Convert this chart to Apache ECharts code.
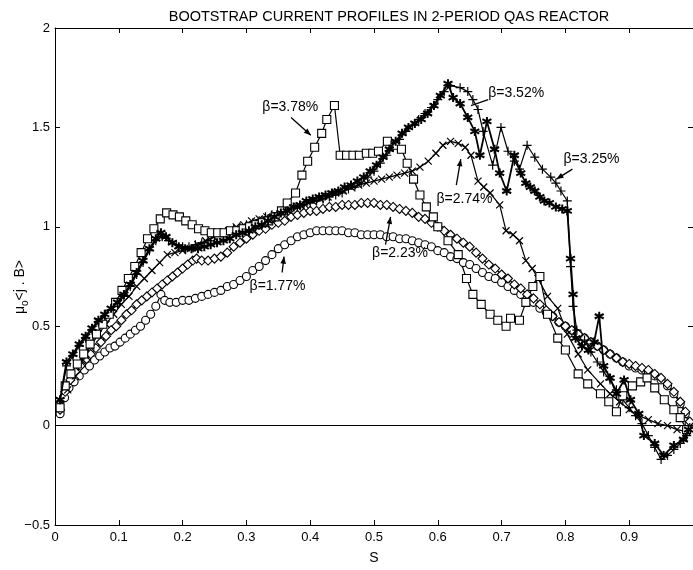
<!DOCTYPE html>
<html>
<head>
<meta charset="utf-8">
<script src="https://cdn.jsdelivr.net/npm/echarts@6/dist/echarts.min.js"></script>
<style>
html,body{margin:0;padding:0;background:#fff;}
#chart{width:693px;height:570px;}
</style>
</head>
<body>
<div id="chart"></div>
<script>
// ---------- DATA ----------
const titleText = 'BOOTSTRAP CURRENT PROFILES IN 2-PERIOD QAS REACTOR';
const xName = 'S';
const xTicks = [0, 0.1, 0.2, 0.3, 0.4, 0.5, 0.6, 0.7, 0.8, 0.9];
const yTicks = [-0.5, 0, 0.5, 1, 1.5, 2];

// beta = 1.77 %  (circles)
const beta177 = [[0.008,0.06],[0.015,0.14],[0.022,0.19],[0.03,0.22],[0.038,0.25],[0.046,0.28],[0.054,0.3],[0.062,0.33],[0.07,0.35],[0.078,0.37],[0.086,0.39],[0.094,0.4],[0.102,0.42],[0.11,0.44],[0.118,0.46],[0.126,0.48],[0.134,0.5],[0.142,0.53],[0.15,0.56],[0.158,0.6],[0.166,0.66],[0.172,0.63],[0.18,0.62],[0.19,0.62],[0.2,0.63],[0.21,0.63],[0.22,0.64],[0.23,0.65],[0.24,0.66],[0.25,0.67],[0.26,0.68],[0.27,0.7],[0.28,0.71],[0.29,0.73],[0.3,0.75],[0.31,0.78],[0.32,0.8],[0.33,0.83],[0.34,0.86],[0.35,0.89],[0.36,0.91],[0.37,0.93],[0.38,0.95],[0.39,0.96],[0.4,0.97],[0.41,0.98],[0.42,0.98],[0.43,0.98],[0.44,0.98],[0.45,0.98],[0.46,0.97],[0.47,0.97],[0.48,0.96],[0.49,0.96],[0.5,0.96],[0.51,0.96],[0.52,0.95],[0.53,0.95],[0.54,0.94],[0.55,0.94],[0.56,0.93],[0.57,0.92],[0.58,0.91],[0.59,0.9],[0.6,0.88],[0.61,0.87],[0.62,0.85],[0.63,0.84],[0.64,0.82],[0.65,0.81],[0.66,0.79],[0.67,0.77],[0.68,0.75],[0.69,0.74],[0.7,0.72],[0.71,0.7],[0.72,0.68],[0.73,0.66],[0.74,0.64],[0.75,0.62],[0.76,0.59],[0.77,0.57],[0.78,0.55],[0.79,0.52],[0.8,0.5],[0.81,0.48],[0.82,0.46],[0.83,0.44],[0.84,0.42],[0.85,0.4],[0.86,0.38],[0.87,0.36],[0.88,0.34],[0.89,0.32],[0.9,0.3],[0.91,0.29],[0.92,0.28],[0.93,0.27],[0.94,0.25],[0.95,0.23],[0.96,0.2],[0.97,0.16],[0.98,0.11],[0.988,0.06],[0.994,0.01]];

// beta = 2.23 %  (diamonds)
const beta223 = [[0.008,0.08],[0.016,0.17],[0.024,0.23],[0.032,0.27],[0.04,0.3],[0.048,0.33],[0.056,0.36],[0.064,0.39],[0.072,0.42],[0.08,0.45],[0.088,0.48],[0.096,0.5],[0.104,0.53],[0.112,0.56],[0.12,0.58],[0.128,0.61],[0.136,0.63],[0.144,0.65],[0.152,0.67],[0.16,0.69],[0.168,0.71],[0.176,0.73],[0.184,0.75],[0.192,0.77],[0.2,0.79],[0.208,0.81],[0.216,0.83],[0.222,0.84],[0.23,0.83],[0.24,0.83],[0.25,0.84],[0.26,0.85],[0.27,0.87],[0.28,0.9],[0.29,0.92],[0.3,0.94],[0.31,0.96],[0.32,0.98],[0.33,0.99],[0.34,1.01],[0.35,1.02],[0.36,1.03],[0.37,1.05],[0.38,1.06],[0.39,1.07],[0.4,1.08],[0.41,1.08],[0.42,1.09],[0.43,1.1],[0.44,1.1],[0.45,1.11],[0.46,1.11],[0.47,1.11],[0.48,1.12],[0.49,1.12],[0.5,1.12],[0.51,1.11],[0.52,1.11],[0.53,1.1],[0.54,1.09],[0.55,1.08],[0.56,1.07],[0.57,1.05],[0.58,1.04],[0.59,1.02],[0.6,1.0],[0.61,0.98],[0.62,0.96],[0.63,0.94],[0.64,0.92],[0.65,0.9],[0.66,0.87],[0.67,0.84],[0.68,0.81],[0.69,0.79],[0.7,0.76],[0.71,0.74],[0.72,0.71],[0.73,0.69],[0.74,0.66],[0.75,0.64],[0.76,0.61],[0.77,0.58],[0.78,0.55],[0.79,0.52],[0.8,0.5],[0.81,0.48],[0.82,0.46],[0.83,0.44],[0.84,0.42],[0.85,0.4],[0.86,0.38],[0.87,0.36],[0.88,0.34],[0.89,0.32],[0.9,0.31],[0.91,0.3],[0.92,0.29],[0.93,0.28],[0.94,0.26],[0.95,0.24],[0.96,0.21],[0.97,0.17],[0.98,0.12],[0.988,0.07],[0.995,0.02]];

// beta = 2.74 %  (x marks)
const beta274 = [[0.008,0.1],[0.02,0.18],[0.032,0.25],[0.044,0.33],[0.056,0.4],[0.068,0.46],[0.08,0.51],[0.092,0.56],[0.104,0.61],[0.116,0.65],[0.128,0.7],[0.14,0.74],[0.152,0.78],[0.164,0.82],[0.176,0.86],[0.188,0.87],[0.2,0.88],[0.212,0.89],[0.224,0.91],[0.236,0.93],[0.248,0.95],[0.26,0.97],[0.272,0.98],[0.284,1.0],[0.296,1.01],[0.308,1.03],[0.32,1.04],[0.332,1.05],[0.344,1.06],[0.356,1.08],[0.368,1.09],[0.38,1.1],[0.392,1.11],[0.404,1.13],[0.416,1.14],[0.428,1.15],[0.44,1.17],[0.452,1.18],[0.464,1.2],[0.476,1.21],[0.488,1.22],[0.5,1.23],[0.512,1.24],[0.524,1.25],[0.536,1.26],[0.548,1.27],[0.56,1.28],[0.572,1.3],[0.585,1.33],[0.597,1.37],[0.608,1.41],[0.62,1.43],[0.632,1.42],[0.643,1.4],[0.652,1.36],[0.663,1.23],[0.672,1.2],[0.682,1.17],[0.697,1.11],[0.707,0.98],[0.718,0.96],[0.728,0.93],[0.738,0.83],[0.748,0.79],[0.757,0.74],[0.772,0.65],[0.788,0.59],[0.803,0.46],[0.82,0.36],[0.835,0.28],[0.855,0.21],[0.87,0.16],[0.885,0.12],[0.9,0.08],[0.915,0.05],[0.93,0.03],[0.945,0.01],[0.96,0.0],[0.975,-0.02],[0.99,-0.03]];

// beta = 3.25 %  (plus marks)
const beta325 = [[0.008,0.12],[0.018,0.3],[0.028,0.35],[0.038,0.4],[0.048,0.44],[0.058,0.48],[0.068,0.52],[0.078,0.55],[0.088,0.58],[0.098,0.61],[0.108,0.65],[0.118,0.7],[0.128,0.76],[0.138,0.82],[0.148,0.88],[0.158,0.93],[0.168,0.95],[0.178,0.93],[0.19,0.91],[0.2,0.9],[0.21,0.9],[0.22,0.91],[0.23,0.92],[0.24,0.93],[0.25,0.95],[0.26,0.97],[0.27,0.98],[0.28,0.99],[0.29,1.0],[0.3,1.01],[0.31,1.02],[0.32,1.03],[0.33,1.05],[0.34,1.06],[0.35,1.07],[0.36,1.08],[0.37,1.09],[0.38,1.1],[0.39,1.11],[0.4,1.12],[0.41,1.13],[0.42,1.14],[0.43,1.15],[0.44,1.16],[0.45,1.17],[0.46,1.19],[0.47,1.2],[0.48,1.22],[0.49,1.25],[0.5,1.28],[0.51,1.32],[0.52,1.36],[0.53,1.4],[0.54,1.44],[0.55,1.48],[0.56,1.51],[0.57,1.54],[0.58,1.57],[0.59,1.6],[0.6,1.64],[0.61,1.68],[0.62,1.71],[0.635,1.7],[0.647,1.68],[0.655,1.64],[0.663,1.59],[0.671,1.48],[0.686,1.31],[0.699,1.5],[0.71,1.38],[0.72,1.33],[0.728,1.29],[0.74,1.41],[0.752,1.35],[0.764,1.29],[0.777,1.25],[0.785,1.22],[0.793,1.18],[0.803,1.13],[0.808,0.8],[0.812,0.6],[0.818,0.48],[0.83,0.43],[0.84,0.37],[0.85,0.32],[0.86,0.27],[0.87,0.23],[0.88,0.18],[0.89,0.13],[0.9,0.09],[0.91,0.05],[0.92,0.01],[0.93,-0.05],[0.94,-0.11],[0.95,-0.17],[0.96,-0.15],[0.97,-0.12],[0.98,-0.09],[0.99,-0.05],[0.995,-0.01]];

// beta = 3.52 %  (filled asterisks)
const beta352 = [[0.008,0.13],[0.018,0.32],[0.028,0.36],[0.038,0.41],[0.048,0.45],[0.058,0.49],[0.068,0.53],[0.078,0.56],[0.088,0.59],[0.098,0.62],[0.108,0.66],[0.118,0.71],[0.128,0.77],[0.138,0.83],[0.148,0.89],[0.158,0.94],[0.166,0.97],[0.174,0.95],[0.184,0.92],[0.194,0.9],[0.204,0.89],[0.214,0.89],[0.224,0.89],[0.234,0.9],[0.244,0.91],[0.254,0.92],[0.264,0.93],[0.274,0.94],[0.284,0.96],[0.294,0.97],[0.304,0.98],[0.314,1.0],[0.324,1.01],[0.334,1.03],[0.344,1.05],[0.354,1.07],[0.364,1.08],[0.374,1.1],[0.384,1.11],[0.394,1.13],[0.404,1.14],[0.414,1.15],[0.424,1.16],[0.434,1.17],[0.444,1.18],[0.454,1.2],[0.464,1.21],[0.474,1.23],[0.484,1.25],[0.494,1.28],[0.504,1.31],[0.514,1.35],[0.524,1.39],[0.534,1.43],[0.544,1.47],[0.554,1.5],[0.564,1.52],[0.574,1.54],[0.584,1.57],[0.594,1.61],[0.604,1.66],[0.616,1.72],[0.624,1.65],[0.635,1.62],[0.647,1.55],[0.658,1.48],[0.666,1.36],[0.677,1.53],[0.689,1.39],[0.697,1.27],[0.708,1.18],[0.72,1.36],[0.73,1.27],[0.738,1.22],[0.745,1.2],[0.752,1.18],[0.76,1.15],[0.767,1.13],[0.775,1.12],[0.785,1.1],[0.795,1.09],[0.803,1.08],[0.808,0.84],[0.812,0.66],[0.816,0.44],[0.826,0.4],[0.836,0.38],[0.845,0.42],[0.853,0.55],[0.86,0.3],[0.87,0.24],[0.88,0.16],[0.892,0.23],[0.902,0.13],[0.915,0.06],[0.923,-0.05],[0.94,-0.09],[0.954,-0.15],[0.97,-0.1],[0.985,-0.07],[0.993,-0.02]];

// beta = 3.78 %  (squares)
const beta378 = [[0.008,0.09],[0.016,0.2],[0.025,0.26],[0.035,0.31],[0.045,0.36],[0.055,0.41],[0.065,0.46],[0.075,0.51],[0.085,0.56],[0.095,0.62],[0.105,0.68],[0.115,0.74],[0.125,0.8],[0.135,0.87],[0.145,0.94],[0.155,0.99],[0.165,1.04],[0.175,1.07],[0.185,1.06],[0.195,1.05],[0.205,1.03],[0.215,1.01],[0.225,0.99],[0.235,0.98],[0.245,0.97],[0.255,0.97],[0.265,0.97],[0.275,0.98],[0.285,0.98],[0.295,0.99],[0.305,1.0],[0.315,1.01],[0.325,1.02],[0.335,1.03],[0.345,1.05],[0.355,1.08],[0.364,1.12],[0.377,1.17],[0.387,1.26],[0.396,1.33],[0.407,1.4],[0.418,1.47],[0.426,1.54],[0.438,1.61],[0.447,1.36],[0.457,1.36],[0.467,1.36],[0.477,1.36],[0.488,1.37],[0.498,1.37],[0.507,1.38],[0.521,1.43],[0.533,1.41],[0.543,1.39],[0.552,1.32],[0.562,1.24],[0.572,1.16],[0.582,1.1],[0.593,1.05],[0.6,1.0],[0.616,0.93],[0.632,0.86],[0.645,0.74],[0.655,0.66],[0.668,0.61],[0.682,0.56],[0.694,0.53],[0.707,0.5],[0.714,0.54],[0.728,0.53],[0.738,0.62],[0.749,0.7],[0.76,0.75],[0.772,0.56],[0.788,0.44],[0.8,0.38],[0.82,0.26],[0.835,0.21],[0.855,0.16],[0.868,0.12],[0.88,0.07],[0.89,0.15],[0.905,0.2],[0.918,0.22],[0.928,0.24],[0.94,0.19],[0.955,0.13],[0.97,0.08],[0.98,0.04],[0.99,-0.02]];

// annotation labels (text anchor and arrow in data coordinates)
const annotations = [
  {text:'\u03b2=3.78%', at:[0.325,1.60], from:[0.370,1.55], to:[0.401,1.46], head:true},
  {text:'\u03b2=3.52%', at:[0.679,1.67], from:[0.679,1.64], to:[0.652,1.61], head:false},
  {text:'\u03b2=3.25%', at:[0.797,1.34], from:[0.811,1.29], to:[0.786,1.24], head:true},
  {text:'\u03b2=2.74%', at:[0.598,1.14], from:[0.629,1.21], to:[0.636,1.34], head:true},
  {text:'\u03b2=2.23%', at:[0.497,0.87], from:[0.518,0.91], to:[0.526,1.05], head:true},
  {text:'\u03b2=1.77%', at:[0.305,0.70], from:[0.356,0.77], to:[0.359,0.85], head:true}
];

// ---------- CHART ----------
const FONT = 'Liberation Sans, Arial, Helvetica, sans-serif';
const chart = echarts.init(document.getElementById('chart'), null, {renderer:'canvas'});

const SYM_X = 'path://M0,0L10,10M10,0L0,10';
const SYM_PLUS = 'path://M5,0L5,10M0,5L10,5';
const SYM_STAR = 'path://M5,0L5,10M0.67,2.5L9.33,7.5M9.33,2.5L0.67,7.5';

function mkSeries(name, data, symbol, size, opts) {
  opts = opts || {};
  return {
    name: name, type: 'line', data: data,
    symbol: symbol, symbolSize: size, showSymbol: true, showAllSymbol: true,
    lineStyle: {color:'#000', width: opts.lw || 1.2},
    itemStyle: {color: opts.fill || '#fff', borderColor:'#000', borderWidth: opts.bw || 1.1},
    emphasis: {disabled: true},
    animation: false, z: opts.z || 2
  };
}

const series = [
  mkSeries('1.77', beta177, 'circle', 8),
  mkSeries('2.23', beta223, 'diamond', 9),
  mkSeries('2.74', beta274, SYM_X, 7, {fill:'#000', bw:1.2}),
  mkSeries('3.25', beta325, SYM_PLUS, 9, {fill:'#000', bw:1.2}),
  mkSeries('3.52', beta352, SYM_STAR, 9, {fill:'#000', bw:2, lw:1.8, z:3}),
  mkSeries('3.78', beta378, 'rect', 8)
];
series[0].markLine = {
  silent: true, symbol: 'none', animation: false,
  label: {show: false},
  lineStyle: {color:'#000', type:'solid', width:1},
  data: [{yAxis: 0}]
};

const axisCommon = {
  axisLine: {show: true, onZero: false, lineStyle: {color:'#000', width:1}},
  axisTick: {show: true, inside: true, length: 5, lineStyle: {color:'#000'}},
  splitLine: {show: false}
};

chart.setOption({
  animation: false,
  backgroundColor: '#fff',
  title: {
    text: titleText, left: 384, top: 4, textAlign: 'center',
    textStyle: {fontSize: 14.5, fontWeight: 'normal', color:'#000', fontFamily: FONT}
  },
  grid: {left: 55, right: -3, top: 28, bottom: 41, containLabel: false},
  xAxis: [
    Object.assign({
      type: 'value', min: xTicks[0], max: 1, interval: 0.1, position: 'bottom',
      name: xName, nameLocation: 'middle', nameGap: 26,
      nameTextStyle: {fontSize: 14, color:'#000', fontFamily: FONT},
      axisLabel: {color:'#000', fontSize: 13, fontFamily: FONT, margin: 6, showMaxLabel: false,
        formatter: v => String(Math.round(v*10)/10)}
    }, axisCommon),
    Object.assign({
      type: 'value', min: xTicks[0], max: 1, interval: 0.1, position: 'top',
      axisLabel: {show: false}
    }, axisCommon)
  ],
  yAxis: [
    Object.assign({
      type: 'value', min: yTicks[0], max: yTicks[yTicks.length-1], interval: 0.5, position: 'left',
      axisLabel: {color:'#000', fontSize: 13, fontFamily: FONT, margin: 5,
        formatter: v => (v < 0 ? '\u2212' + Math.abs(v) : String(v))}
    }, axisCommon),
    Object.assign({
      type: 'value', min: yTicks[0], max: yTicks[yTicks.length-1], interval: 0.5, position: 'right',
      axisLabel: {show: false}
    }, axisCommon)
  ],
  series: series
});

// annotations and y-axis title
const graphics = [];
annotations.forEach(a => {
  const p = chart.convertToPixel({xAxisIndex:0, yAxisIndex:0}, a.at);
  const f = chart.convertToPixel({xAxisIndex:0, yAxisIndex:0}, a.from);
  const t = chart.convertToPixel({xAxisIndex:0, yAxisIndex:0}, a.to);
  graphics.push({type:'text', x: p[0], y: p[1], silent: true, z: 10,
    style: {text: a.text, fill:'#000', font: '14px ' + FONT, verticalAlign:'middle', align:'left'}});
  graphics.push({type:'line', silent: true, z: 10, shape: {x1: f[0], y1: f[1], x2: t[0], y2: t[1]},
    style: {stroke:'#000', lineWidth: 1.3}});
  if (a.head) {
    const ang = Math.atan2(t[1]-f[1], t[0]-f[0]);
    const L = 7, W = 2.8;
    const bx = t[0] - L*Math.cos(ang), by = t[1] - L*Math.sin(ang);
    const nx = -Math.sin(ang), ny = Math.cos(ang);
    graphics.push({type:'polygon', silent: true, z: 10,
      shape: {points: [[t[0], t[1]], [bx + W*nx, by + W*ny], [bx - W*nx, by - W*ny]]},
      style: {fill:'#000'}});
  }
});
graphics.push({
  type:'text', x: 20, y: 287, rotation: Math.PI/2, silent: true,
  style: {
    text: '{a|\u03bc}{b|o}{a|<j . B>}', align:'center', verticalAlign:'middle',
    rich: {
      a: {fontSize: 14, fontFamily: FONT, fill:'#000', lineHeight: 20, verticalAlign:'middle'},
      b: {fontSize: 10, fontFamily: FONT, fill:'#000', lineHeight: 20, verticalAlign:'bottom'}
    }
  }
});
chart.setOption({graphic: graphics});
</script>
</body>
</html>
